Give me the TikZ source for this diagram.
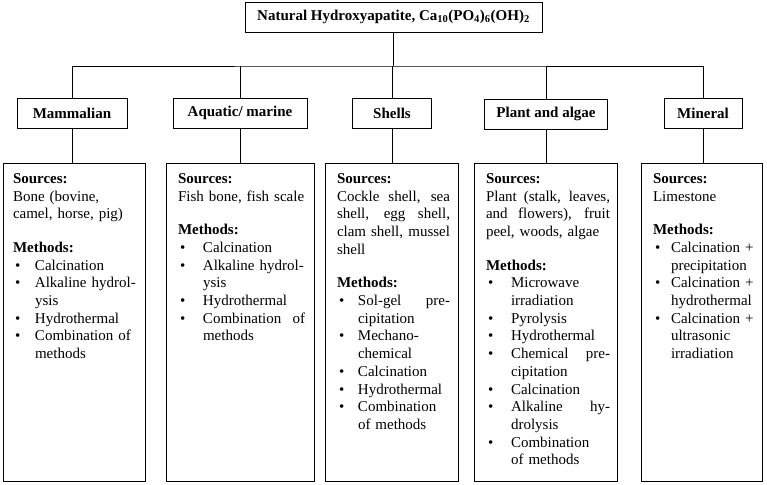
\documentclass[tikz,border=0pt]{standalone}
\usepackage{fontspec}
\setmainfont{Liberation Serif}
\usetikzlibrary{positioning}

\newlength\itemind
\newlength\justwd
\newcommand{\bl}{\makebox[\itemind][l]{\hspace{2pt}\textbullet}}
\newcommand{\ct}{\hspace*{\itemind}}
\newcommand{\jf}[1]{\leavevmode\hbox to\justwd{\spaceskip=.25em plus 1fil\relax #1}}
\newcommand{\ji}[1]{\hbox to\dimexpr\justwd-\itemind\relax{\spaceskip=.25em plus 1fil\relax #1}}

\tikzset{
  topbox/.style={draw, font=\bfseries\fontsize{15}{18}\selectfont, minimum height=30, inner sep=0},
  catbox/.style={draw, font=\bfseries\fontsize{15}{18}\selectfont, minimum height=30, inner sep=0},
  detbox/.style={draw, minimum height=318, anchor=north, inner sep=0},
  dettext/.style={anchor=north west, inner sep=0, align=left, text width=150, font=\fontsize{15}{17.7}\selectfont}
}

\begin{document}
\begin{tikzpicture}[x=1pt, y=-1pt, line width=0.9pt]
    \useasboundingbox (0,0) rectangle (767,484);
    \node [topbox, minimum width=297] (nha) at (393.5,17) {Natural Hydroxyapatite, Ca\textsubscript{10}(PO\textsubscript{4})\textsubscript{6}(OH)\textsubscript{2}};
    \coordinate (bus) at (393.5,66);
    \node [catbox, minimum width=110] (mam) at (72,113) {Mammalian};
    \node [catbox, minimum width=134] (aqu) at (240,113) {Aquatic/ marine};
    \node [catbox, minimum width=79] (she) at (392,113) {Shells};
    \node [catbox, minimum width=123] (pla) at (546,114) {Plant and algae};
    \node [catbox, minimum width=78] (minr) at (703,113) {Mineral};
    \draw (nha.south) -- (bus);
    \draw (mam.north) |- (bus) -| (minr.north);
    \draw (aqu.north) -- (aqu.north |- bus);
    \draw (she.north) -- (she.north |- bus);
    \draw (pla.north) -- (pla.north |- bus);
    \node [detbox, minimum width=142] (mamD) at (74,163) {};
    \node [detbox, minimum width=148] (aquD) at (240,163) {};
    \node [detbox, minimum width=133] (sheD) at (391.5,163) {};
    \node [detbox, minimum width=143] (plaD) at (545.5,163) {};
    \node [detbox, minimum width=121] (minrD) at (701.5,163) {};
    \draw (mam.south) -- (mam.south |- mamD.north);
    \draw (aqu.south) -- (aqu.south |- aquD.north);
    \draw (she.south) -- (she.south |- sheD.north);
    \draw (pla.south) -- (pla.south |- plaD.north);
    \draw (minr.south) -- (minr.south |- minrD.north);
    % box texts
    \node [dettext] (mamT) at ([xshift=10,yshift=-10]mamD.north west) {\setlength\itemind{22pt}%
      \textbf{Sources:}\\
      Bone (bovine,\\
      camel, horse, pig)\\[16pt]
      \textbf{Methods:}\\
      \bl Calcination\\
      \bl Alkaline hydrol-\\
      \ct ysis\\
      \bl Hydrothermal\\
      \bl Combination of\\
      \ct methods};
    \node [dettext] (aquT) at ([xshift=12,yshift=-10]aquD.north west) {\setlength\itemind{25pt}\setlength\justwd{127pt}%
      \textbf{Sources:}\\
      Fish bone, fish scale\\[16pt]
      \textbf{Methods:}\\
      \bl Calcination\\
      \bl Alkaline hydrol-\\
      \ct ysis\\
      \bl Hydrothermal\\
      \bl\ji{Combination of}\\
      \ct methods};
    \node [dettext] (sheT) at ([xshift=12,yshift=-10]sheD.north west) {\setlength\itemind{21pt}\setlength\justwd{113pt}%
      \textbf{Sources:}\\
      \jf{Cockle shell, sea}\\
      \jf{shell, egg shell,}\\
      \jf{clam shell, mussel}\\
      shell\\[16pt]
      \textbf{Methods:}\\
      \bl\ji{Sol-gel pre-}\\
      \ct cipitation\\
      \bl Mechano-\\
      \ct chemical\\
      \bl Calcination\\
      \bl Hydrothermal\\
      \bl Combination\\
      \ct of methods};
    \node [dettext] (plaT) at ([xshift=12,yshift=-10]plaD.north west) {\setlength\itemind{25pt}\setlength\justwd{124pt}%
      \textbf{Sources:}\\
      \jf{Plant (stalk, leaves,}\\
      \jf{and flowers), fruit}\\
      peel, woods, algae\\[16pt]
      \textbf{Methods:}\\
      \bl Microwave\\
      \ct irradiation\\
      \bl Pyrolysis\\
      \bl Hydrothermal\\
      \bl\ji{Chemical pre-}\\
      \ct cipitation\\
      \bl Calcination\\
      \bl\ji{Alkaline hy-}\\
      \ct drolysis\\
      \bl Combination\\
      \ct of methods};
    \node [dettext] (minrT) at ([xshift=12,yshift=-10]minrD.north west) {\setlength\itemind{18pt}%
      \textbf{Sources:}\\
      Limestone\\[16pt]
      \textbf{Methods:}\\
      \bl Calcination +\\
      \ct precipitation\\
      \bl Calcination +\\
      \ct hydrothermal\\
      \bl Calcination +\\
      \ct ultrasonic\\
      \ct irradiation};
\end{tikzpicture}
\end{document}
